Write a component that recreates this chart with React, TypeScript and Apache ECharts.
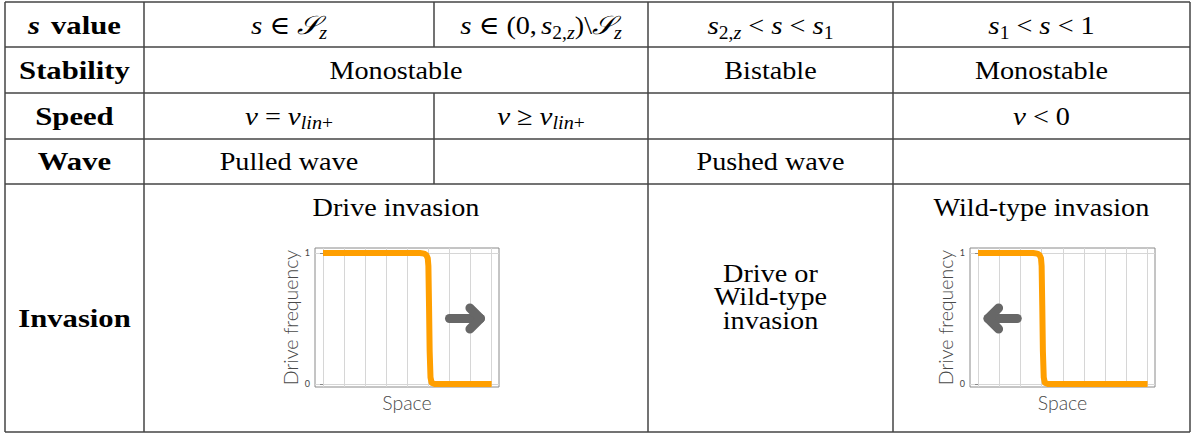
import React, { useEffect, useRef } from 'react';
import * as echarts from 'echarts';

// ---------- data (mini charts) ----------
const driveInvasionX = [0, 4.6, 4.8, 4.9, 4.97, 5.0, 5.03, 5.06, 5.1, 5.15, 5.3, 8];
const driveInvasionY = [1, 1, 0.995, 0.985, 0.96, 0.9, 0.6, 0.25, 0.05, 0.01, 0, 0];
const wildInvasionX = [0, 2.6, 2.8, 2.9, 2.97, 3.0, 3.03, 3.06, 3.1, 3.15, 3.3, 8];
const wildInvasionY = [1, 1, 0.995, 0.985, 0.96, 0.9, 0.6, 0.25, 0.05, 0.01, 0, 0];
const rightArrowShaft = [[6.0, 0.5], [7.47, 0.5]];
const rightArrowHead = [[6.97, 0.58], [7.47, 0.5], [6.97, 0.42]];
const leftArrowShaft = [[1.85, 0.5], [0.47, 0.5]];
const leftArrowHead = [[0.97, 0.58], [0.47, 0.5], [0.97, 0.42]];
const xGridValues = [0, 1, 2, 3, 4, 5, 6, 7, 8];
const yTickValues = [0, 1];

// ---------- table text ----------
const rowLabels = ['Stability', 'Speed', 'Wave', 'Invasion'];
const stabilityTexts = ['Monostable', 'Bistable', 'Monostable'];
const waveTexts = ['Pulled wave', 'Pushed wave'];
const invasionTitles = ['Drive invasion', 'Wild-type invasion'];
const middleInvasionLines = ['Drive or', 'Wild-type', 'invasion'];
const axisNames = { x: 'Space', y: 'Drive frequency' };

// ---------- layout ----------
const colX = [5, 144, 434, 648, 893, 1190];
const rowY = [2, 47, 93, 139, 184, 432];

const FS = 26;
const SS = 18;
const SERIF = "'Liberation Serif', 'DejaVu Serif', serif";
const SANS = "Lato, 'Noto Sans', sans-serif";

type Kind = 'r' | 'i' | 'b' | 'bi' | 'sr' | 'si' | 'cal' | 'gap';
interface Frag { t: string; k: Kind; w?: number }
const FONTS: Record<string, any> = {
  r: { size: FS, style: 'normal', weight: 'normal', sx: 1.085, dy: 0, family: SERIF },
  i: { size: FS, style: 'italic', weight: 'normal', sx: 1.12, dy: 0, family: SERIF },
  b: { size: FS, style: 'normal', weight: 'bold', sx: 1.18, dy: 0, family: SERIF },
  bi: { size: FS, style: 'italic', weight: 'bold', sx: 1.18, dy: 0, family: SERIF },
  sr: { size: SS, style: 'normal', weight: 'normal', sx: 1.085, dy: 7, family: SERIF },
  si: { size: SS, style: 'italic', weight: 'normal', sx: 1.12, dy: 7, family: SERIF },
  cal: { size: FS, style: 'italic', weight: 'normal', sx: 1.1, dy: 0, family: SERIF },
};
const G = (w: number): Frag => ({ t: '', k: 'gap', w });
const TH = 7;
const R = (t: string): Frag => ({ t, k: 'r' });
const I = (t: string): Frag => ({ t, k: 'i' });
const SR = (t: string): Frag => ({ t, k: 'sr' });
const SI = (t: string): Frag => ({ t, k: 'si' });
const CAL = (t: string): Frag => ({ t, k: 'cal' });

const headerFrags: Frag[][] = [
  [{ t: 's', k: 'bi' }, G(11), { t: 'value', k: 'b' }],
  [I('s'), G(TH), R('∈'), G(TH), CAL('𝒮'), SI('z')],
  [I('s'), G(TH), R('∈'), G(TH), R('(0,'), G(4), I('s'), SR('2,'), SI('z'), R(')\\'), CAL('𝒮'), SI('z')],
  [I('s'), SR('2,'), SI('z'), G(TH), R('<'), G(TH), I('s'), G(TH), R('<'), G(TH), I('s'), SR('1')],
  [I('s'), SR('1'), G(TH), R('<'), G(TH), I('s'), G(TH), R('<'), G(TH), R('1')],
];
const speedFrags: Frag[][] = [
  [I('v'), G(TH), R('='), G(TH), I('v'), SI('lin'), SR('+')],
  [I('v'), G(TH), R('≥'), G(TH), I('v'), SI('lin'), SR('+')],
  [I('v'), G(TH), R('<'), G(TH), R('0')],
];

let ctx2d: CanvasRenderingContext2D | null = null;
function measure(t: string, f: any): number {
  if (!ctx2d) ctx2d = document.createElement('canvas').getContext('2d');
  if (!ctx2d) return t.length * f.size * 0.5;
  ctx2d.font = `${f.style} ${f.weight} ${f.size}px ${f.family}`;
  return ctx2d.measureText(t).width;
}

function mathLine(cx: number, cy: number, frags: Frag[]): any[] {
  const widths = frags.map((f) => (f.k === 'gap' ? f.w || 0 : measure(f.t, FONTS[f.k]) * FONTS[f.k].sx));
  const total = widths.reduce((a, b) => a + b, 0);
  let x = cx - total / 2;
  const els: any[] = [];
  frags.forEach((f, i) => {
    if (f.k !== 'gap') {
      const F = FONTS[f.k];
      els.push({
        type: 'text',
        x,
        y: cy + F.dy,
        scaleX: F.sx,
        silent: true,
        style: {
          text: f.t, x: 0, y: 0,
          fontSize: F.size, fontFamily: F.family, fontStyle: F.style, fontWeight: F.weight,
          fill: '#000', align: 'left', verticalAlign: 'middle', textAlign: 'left', textVerticalAlign: 'middle',
        },
      });
    }
    x += widths[i];
  });
  return els;
}

function hLine(x1: number, x2: number, y: number) {
  return { type: 'line', silent: true, shape: { x1, y1: y, x2, y2: y }, style: { stroke: '#444', lineWidth: 1.5 } };
}
function vLine(x: number, y1: number, y2: number) {
  return { type: 'line', silent: true, shape: { x1: x, y1, x2: x, y2 }, style: { stroke: '#444', lineWidth: 1.5 } };
}

function buildGraphic(): any[] {
  const els: any[] = [];
  // horizontal lines
  rowY.forEach((y) => els.push(hLine(colX[0], colX[5], y)));
  // vertical lines (full height)
  [0, 1, 3, 4, 5].forEach((ci) => els.push(vLine(colX[ci], rowY[0], rowY[5])));
  // column 2|3 separator: header row, then speed + wave rows
  els.push(vLine(colX[2], rowY[0], rowY[1]));
  els.push(vLine(colX[2], rowY[2], rowY[4]));
  const cxs = [0, 1, 2, 3, 4].map((i) => (colX[i] + colX[i + 1]) / 2);
  const cys = [0, 1, 2, 3].map((i) => (rowY[i] + rowY[i + 1]) / 2);
  const merged23 = (colX[1] + colX[3]) / 2;
  // header row
  headerFrags.forEach((fr, i) => els.push(...mathLine(cxs[i], cys[0] + 1, fr)));
  // row labels
  const labelYs = [cys[1], cys[2], cys[3], 318];
  rowLabels.forEach((t, i) => els.push(...mathLine(cxs[0], labelYs[i], [{ t, k: 'b' }])));
  // stability
  els.push(...mathLine(merged23, cys[1], [R(stabilityTexts[0])]));
  els.push(...mathLine(cxs[3], cys[1], [R(stabilityTexts[1])]));
  els.push(...mathLine(cxs[4], cys[1], [R(stabilityTexts[2])]));
  // speed
  els.push(...mathLine(cxs[1], cys[2], speedFrags[0]));
  els.push(...mathLine(cxs[2], cys[2], speedFrags[1]));
  els.push(...mathLine(cxs[4], cys[2], speedFrags[2]));
  // wave
  els.push(...mathLine(cxs[1], cys[3], [R(waveTexts[0])]));
  els.push(...mathLine(cxs[3], cys[3], [R(waveTexts[1])]));
  // invasion
  els.push(...mathLine(merged23, 207, [R(invasionTitles[0])]));
  els.push(...mathLine(cxs[4], 207, [R(invasionTitles[1])]));
  middleInvasionLines.forEach((t, i) => els.push(...mathLine(cxs[3], 273 + i * 23.5, [R(t)])));
  return els;
}

const zip = (xs: number[], ys: number[]) => xs.map((x, i) => [x, ys[i]]);

export default function App() {
  const ref = useRef<HTMLDivElement>(null);
  useEffect(() => {
    if (!ref.current) return;
    const chart = echarts.init(ref.current, undefined, { renderer: 'svg' });
    const nameStyle = { fontFamily: SANS, fontWeight: 300, fontSize: 19.5, color: '#4a4a4a' };
    const grids = [
      { left: 315, top: 248, width: 184, height: 139 },
      { left: 970, top: 248, width: 185, height: 139 },
    ].map((g) => ({ ...g, show: true, borderColor: '#8a8a8a', borderWidth: 1, backgroundColor: 'transparent', outerBoundsMode: 'none', containLabel: false }));
    const xAxes = [0, 1].map((i) => ({
      type: 'value', gridIndex: i, min: -0.38, max: 8.35,
      axisLine: { show: false },
      axisTick: { show: false, customValues: xGridValues },
      axisLabel: { show: false, customValues: xGridValues },
      splitLine: { show: true, lineStyle: { color: '#d6d6d6', width: 1 } },
      name: axisNames.x, nameLocation: 'middle', nameGap: 5, nameTextStyle: nameStyle,
    }));
    const yAxes = [0, 1].map((i) => ({
      type: 'value', gridIndex: i, min: -0.023, max: 1.038,
      axisLine: { show: false },
      axisTick: { show: true, length: 3, customValues: yTickValues, lineStyle: { color: '#888' } },
      axisLabel: { customValues: yTickValues, fontSize: 9, color: '#444', margin: 5, fontFamily: SANS },
      splitLine: { show: true, lineStyle: { color: '#d6d6d6', width: 1 } },
      name: axisNames.y, nameLocation: 'middle', nameGap: 15, nameRotate: 90, nameTextStyle: nameStyle,
    }));
    const orange = (i: number, data: number[][]) => ({
      type: 'line', xAxisIndex: i, yAxisIndex: i, data, symbol: 'none', silent: true, z: 3,
      lineStyle: { color: '#ff9f00', width: 6, cap: 'butt', join: 'round' },
    });
    const arrow = (i: number, data: number[][]) => ({
      type: 'line', xAxisIndex: i, yAxisIndex: i, data, symbol: 'none', silent: true, z: 4,
      lineStyle: { color: '#676767', width: 9, cap: 'round', join: 'round' },
    });
    chart.setOption({
      animation: false,
      backgroundColor: '#fff',
      grid: grids,
      xAxis: xAxes,
      yAxis: yAxes,
      series: [
        orange(0, zip(driveInvasionX, driveInvasionY)),
        orange(1, zip(wildInvasionX, wildInvasionY)),
        arrow(0, rightArrowShaft),
        arrow(0, rightArrowHead),
        arrow(1, leftArrowShaft),
        arrow(1, leftArrowHead),
      ],
      graphic: buildGraphic(),
    });
    return () => chart.dispose();
  }, []);
  return <div ref={ref} style={{ position: 'absolute', left: 0, top: 0, width: 1194, height: 438 }} />;
}
